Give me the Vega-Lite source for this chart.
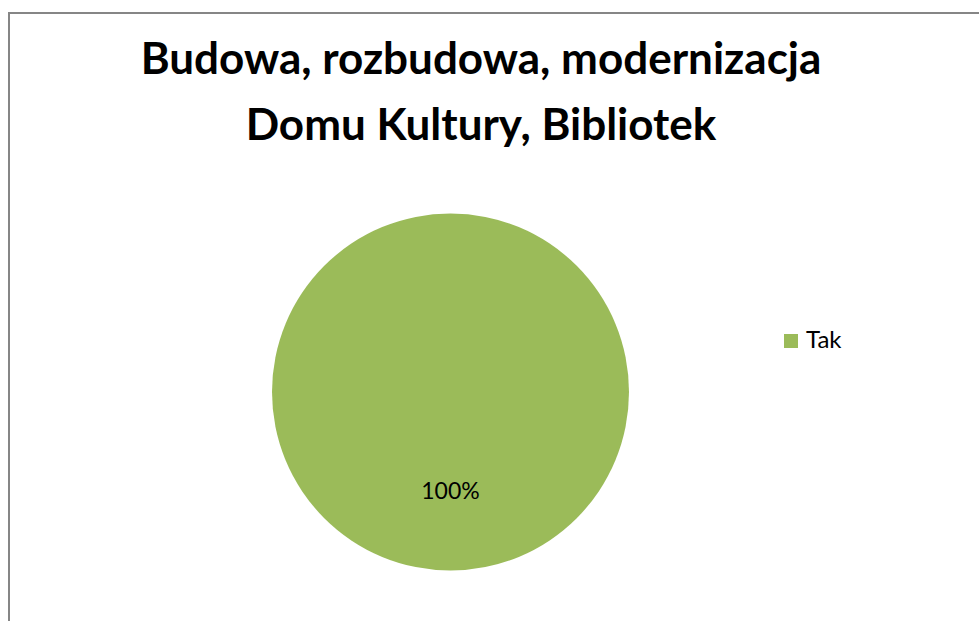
{
  "$schema": "https://vega.github.io/schema/vega-lite/v6.json",
  "autosize": "none",
  "width": 972,
  "height": 610,
  "padding": {"left": 9, "top": 13, "right": -2, "bottom": -2},
  "background": "white",
  "config": {
    "view": {"stroke": null},
    "font": "Lato"
  },
  "title": {
    "text": ["Budowa, rozbudowa, modernizacja", "Domu Kultury, Bibliotek"],
    "frame": "group",
    "anchor": "middle",
    "orient": "top",
    "font": "Lato",
    "fontSize": 44,
    "fontWeight": "bold",
    "color": "#000000",
    "lineHeight": 66,
    "baseline": "top",
    "offset": -137,
    "dx": -14
  },
  "data": {"values": [{"category": "Tak", "value": 100, "label": "100%"}]},
  "layer": [
    {
      "mark": {"type": "rect", "fill": "white", "stroke": "#868686", "strokeWidth": 2},
      "encoding": {}
    },
    {
      "mark": {"type": "arc", "x": 441.5, "y": 379, "outerRadius": 178.5},
      "encoding": {
        "theta": {"field": "value", "type": "quantitative", "stack": true},
        "color": {
          "field": "category",
          "type": "nominal",
          "scale": {"range": ["#9BBB59"]},
          "legend": {
            "title": null,
            "orient": "none",
            "legendX": 770,
            "legendY": 316,
            "symbolType": "square",
            "symbolSize": 196,
            "symbolStrokeWidth": 0,
            "labelFont": "Lato",
            "labelFontSize": 24,
            "labelColor": "#000000",
            "labelOffset": 3,
            "padding": 0
          }
        }
      }
    },
    {
      "mark": {"type": "text", "x": 441.5, "y": 379, "radius": 100, "font": "Lato", "fontSize": 23, "color": "#000000", "align": "center", "baseline": "middle"},
      "encoding": {
        "theta": {"field": "value", "type": "quantitative", "stack": true},
        "text": {"field": "label", "type": "nominal"}
      }
    }
  ]
}
